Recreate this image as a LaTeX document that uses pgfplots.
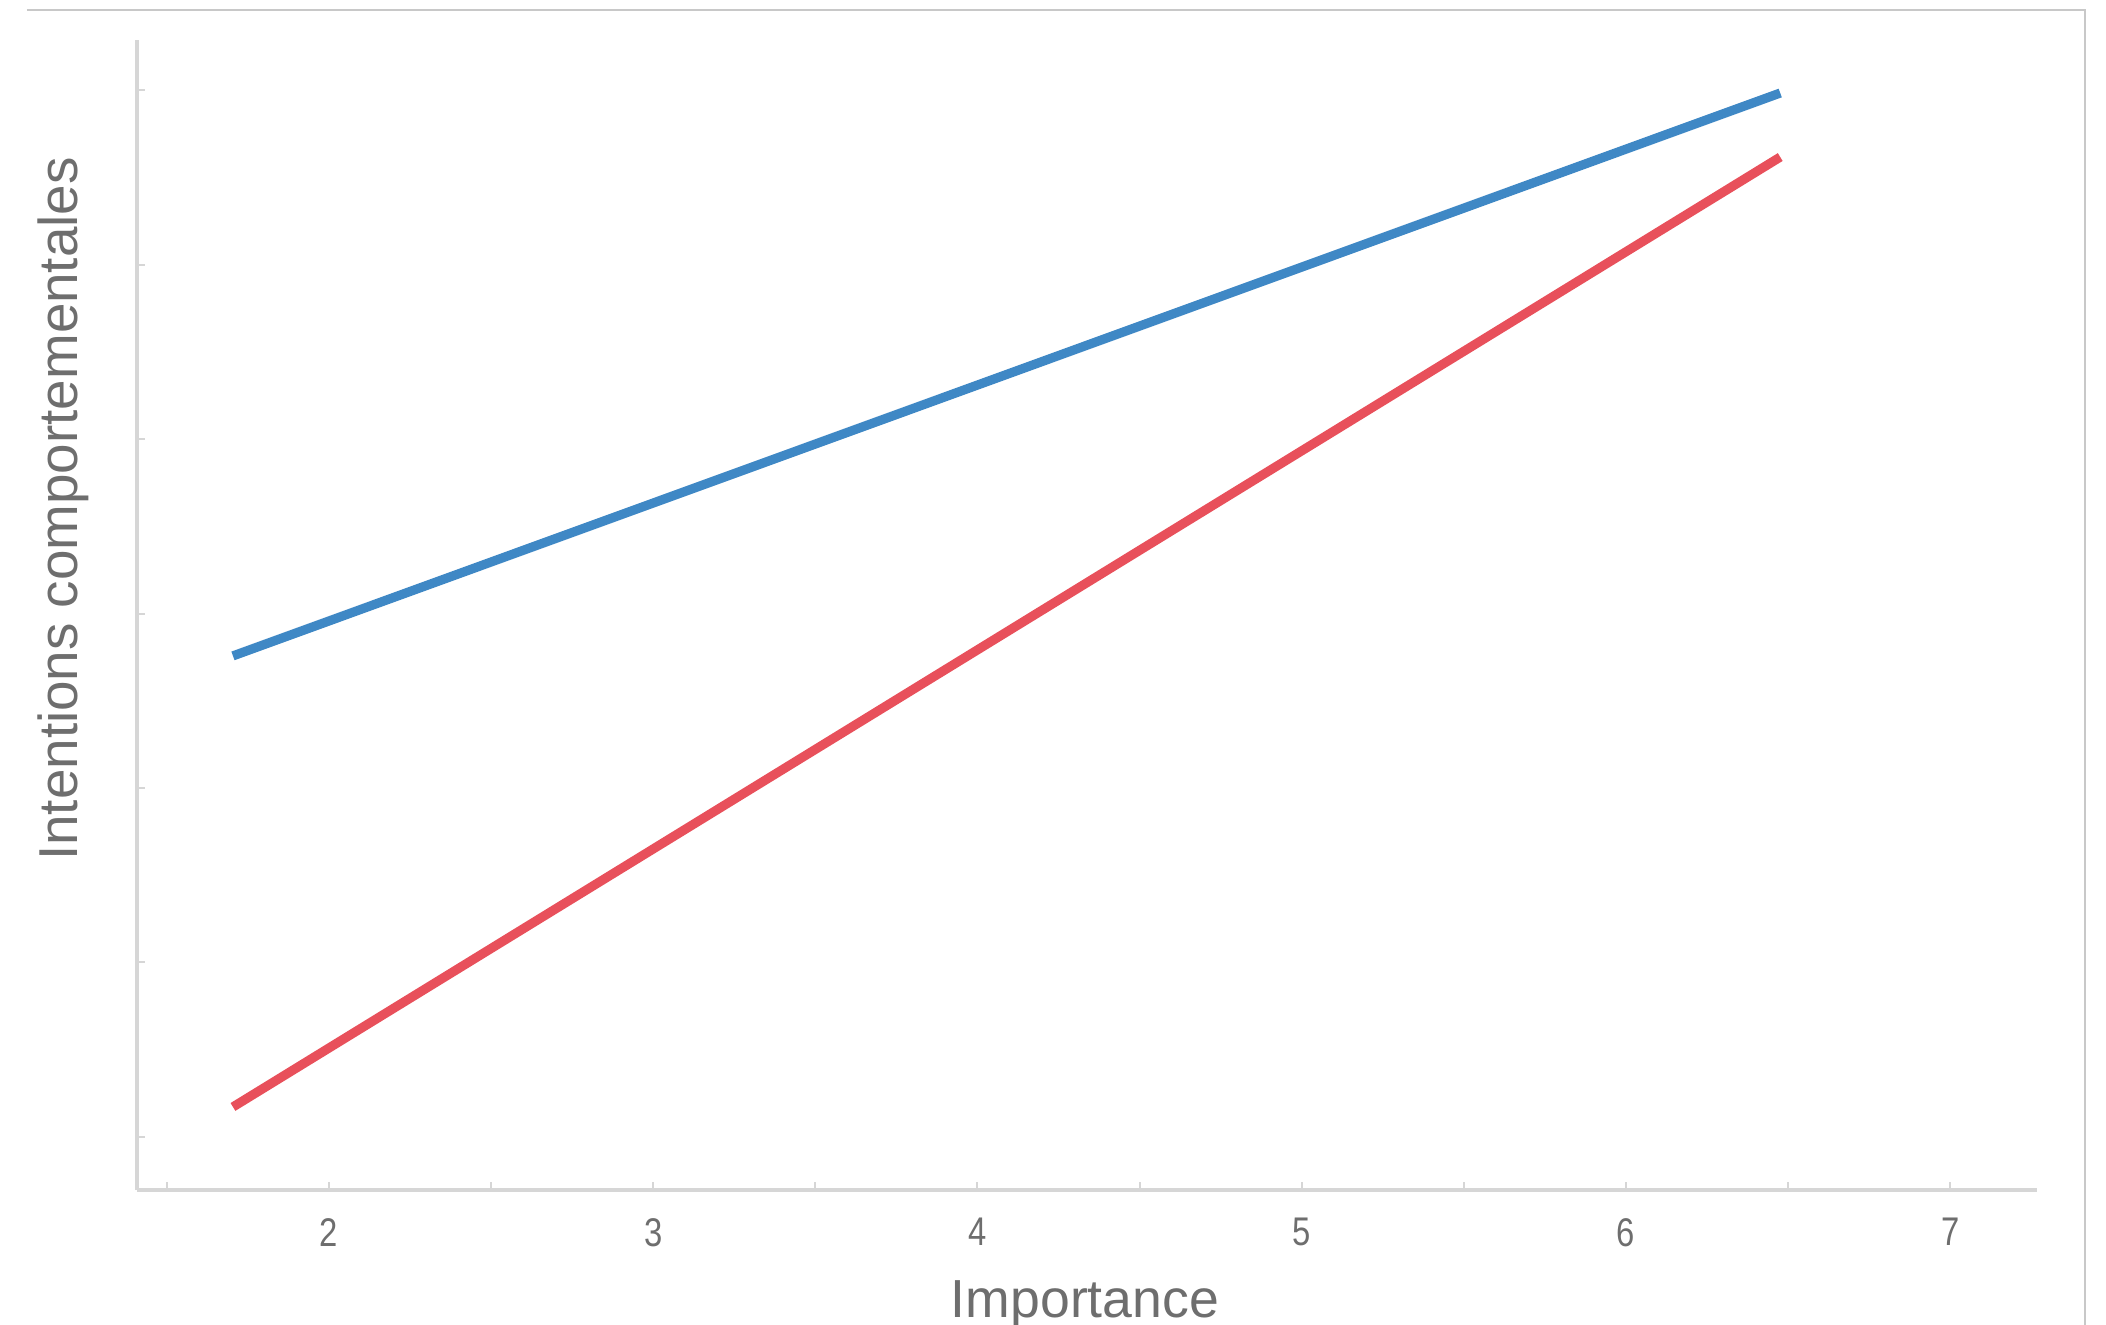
\documentclass[border=0pt]{standalone}
\usepackage{fontspec}
\setmainfont{Liberation Sans}
\newfontfamily\narrowfont[FakeStretch=0.82]{Liberation Sans}
\usepackage{pgfplots}
\pgfplotsset{compat=1.18}
\definecolor{lblue}{RGB}{63,136,197}
\definecolor{lred}{RGB}{232,80,91}
\definecolor{axgray}{RGB}{214,214,214}
\definecolor{txtgray}{RGB}{110,110,110}
\definecolor{bordgray}{RGB}{200,200,200}
\begin{document}
\begin{tikzpicture}
\path[use as bounding box] (-34.25pt,-33.75pt) rectangle (492.25pt,297.5pt);
\draw[bordgray, line width=0.6pt] (-27.5pt,295pt) -- (487pt,295pt) -- (487pt,-33.75pt);
\begin{axis}[
  at={(0pt,0pt)}, anchor=origin,
  scale only axis,
  width=475pt, height=287.5pt,
  xmin=1.408, xmax=7.268,
  ymin=0.696, ymax=7.287,
  axis lines=left,
  axis line style={axgray, line width=1.1pt, -},
  xtick={2,3,4,5,6,7},
  minor xtick={1.5,2.5,3.5,4.5,5.5,6.5},
  ytick={1,2,3,4,5,6,7},
  yticklabels={},
  tick style={axgray, line width=0.5pt},
  major tick length=2pt,
  minor tick length=2pt,
  tick align=inside,
  /pgf/number format/assume math mode=true,
  xticklabel style={font=\narrowfont\fontsize{10}{12}\selectfont, text=txtgray, yshift=-3.5pt},
  clip=false,
]
\addplot[lblue, line width=2.3pt] coordinates {(1.704,3.757) (6.476,6.983)};
\addplot[lred, line width=2.3pt] coordinates {(1.704,1.172) (6.476,6.616)};
\end{axis}
\node[anchor=base, text=txtgray, font=\fontsize{13.4}{15}\selectfont] at (237pt,-31.75pt) {Importance};
\node[anchor=base, rotate=90, text=txtgray, font=\fontsize{13.7}{15}\selectfont] at (-15pt,170.25pt) {Intentions comportementales};
\end{tikzpicture}
\end{document}
